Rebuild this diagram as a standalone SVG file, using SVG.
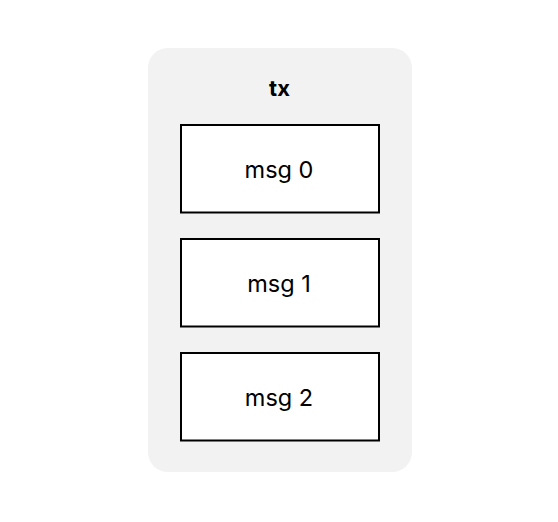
<svg xmlns="http://www.w3.org/2000/svg" width="558" height="522" viewBox="0 0 558 522">
<style>
.box{fill:#fff;stroke:#000;stroke-width:2}
.lbl{font-family:Inter,"Liberation Sans",sans-serif;font-size:23.5px;fill:#000;text-anchor:middle}
.ttl{font-family:Inter,"Liberation Sans",sans-serif;font-size:22px;font-weight:bold;fill:#000;text-anchor:middle}
</style>
<rect width="558" height="522" fill="#fff"/>
<g id="tx">
<rect x="148" y="48" width="264" height="424" rx="20" fill="#f2f2f2"/>
<text class="ttl" x="279.5" y="96">tx</text>
</g>
<g id="msg0"><rect class="box" x="181" y="125" width="198" height="87.5"/><text class="lbl" x="279" y="178">msg 0</text></g>
<g id="msg1"><rect class="box" x="181" y="239" width="198" height="87.5"/><text class="lbl" x="279" y="292">msg 1</text></g>
<g id="msg2"><rect class="box" x="181" y="353" width="198" height="87.5"/><text class="lbl" x="279" y="406">msg 2</text></g>
<g id="connectors"></g>
</svg>
